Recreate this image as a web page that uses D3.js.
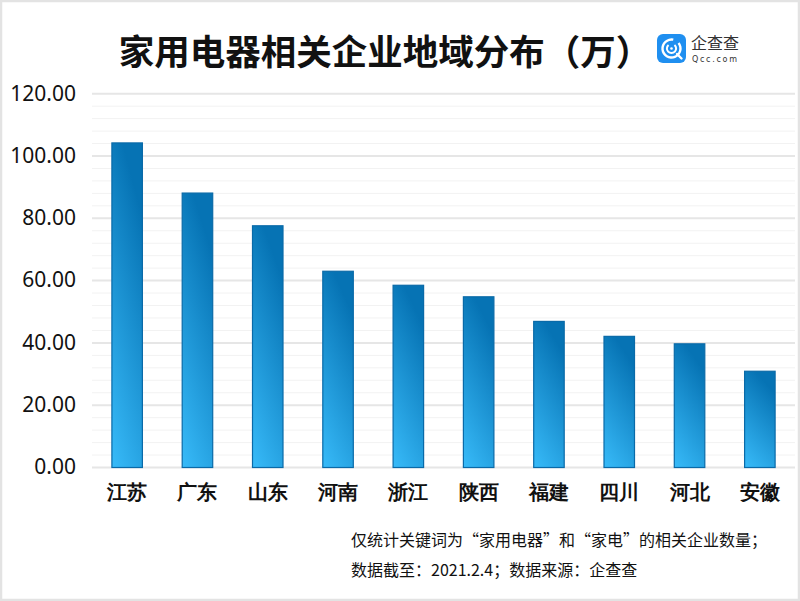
<!DOCTYPE html>
<html>
<meta charset="utf-8" />
<style>
  body { margin: 0; background: #fff; }
  svg { display: block; font-family: "Noto Sans CJK SC", "Noto Sans", sans-serif; }
  .grid-major { stroke: #e6e6e6; stroke-width: 2; }
  .grid-minor { stroke: #f2f2f2; stroke-width: 1; }
  .ylabel { font-family: "Noto Sans", sans-serif; font-size: 21px; fill: #111; }
  .xlabel { font-size: 20px; font-weight: bold; fill: #111; }
  .note { font-size: 16px; fill: #111; }
</style>
<body>
<script src="https://d3js.org/d3.v7.min.js"></script>
<script>
  // data
  let provinces = ["江苏", "广东", "山东", "河南", "浙江", "陕西", "福建", "四川", "河北", "安徽"];
  let counts = [104.2, 88.1, 77.6, 63.0, 58.5, 54.8, 46.9, 42.1, 39.7, 30.9];
  let majorTicks = [0, 20, 40, 60, 80, 100, 120];
  let minorTicks = d3.range(0, 121, 4);
  let title = "家用电器相关企业地域分布（万）";
  let notes = ["仅统计关键词为“家用电器”和“家电”的相关企业数量；", "数据截至：2021.2.4；数据来源：企查查"];

  let width = 800,
    height = 601;

  let svg = d3.select("body").append("svg")
    .attr("width", width)
    .attr("height", height);

  let defs = svg.append("defs");
  let grad = defs.append("linearGradient")
    .attr("id", "barGrad")
    .attr("x1", 0).attr("y1", 1)
    .attr("x2", 0.35).attr("y2", 0);
  grad.append("stop").attr("offset", "0%").attr("stop-color", "#38bbf9");
  grad.append("stop").attr("offset", "100%").attr("stop-color", "#0673b4");

  // frame
  svg.append("rect")
    .attr("x", 1).attr("y", 1)
    .attr("width", width - 2).attr("height", height - 2)
    .attr("fill", "none")
    .attr("stroke", "#e3e3e3")
    .attr("stroke-width", 2.5);

  let x = d3.scaleBand()
    .domain(provinces)
    .range([92, 795])
    .paddingInner(0.566)
    .paddingOuter(0.283);

  let y = d3.scaleLinear()
    .domain([0, 120])
    .range([467.5, 93.7]);

  // gridlines
  svg.append("g").selectAll("line")
    .data(minorTicks.filter((d) => d % 20 !== 0))
    .join("line")
    .attr("class", "grid-minor")
    .attr("x1", 92).attr("x2", 795)
    .attr("y1", (d) => y(d)).attr("y2", (d) => y(d));

  svg.append("g").selectAll("line")
    .data(majorTicks)
    .join("line")
    .attr("class", "grid-major")
    .attr("x1", 92).attr("x2", 795)
    .attr("y1", (d) => y(d)).attr("y2", (d) => y(d));

  // y axis labels
  let yAxis = svg.append("g")
    .attr("transform", "translate(76,0)")
    .call(d3.axisLeft(y).tickValues(majorTicks).tickSize(0).tickPadding(0).tickFormat(d3.format(".2f")));
  yAxis.select(".domain").remove();
  yAxis.selectAll("text")
    .attr("class", "ylabel")
    .attr("font-family", null)
    .attr("font-size", null)
    .attr("fill", null)
    .attr("dy", "0.3em");

  // bars
  svg.append("g").selectAll("rect")
    .data(counts)
    .join("rect")
    .attr("x", (d, i) => x(provinces[i]))
    .attr("y", (d) => y(d))
    .attr("width", x.bandwidth())
    .attr("height", (d) => y(0) - y(d))
    .attr("fill", "url(#barGrad)")
    .attr("stroke", "#0a6aa8")
    .attr("stroke-width", 1.2);

  // x axis labels
  let xAxis = svg.append("g")
    .attr("transform", "translate(0,492)")
    .call(d3.axisBottom(x).tickSize(0).tickPadding(0));
  xAxis.select(".domain").remove();
  xAxis.selectAll("text")
    .attr("class", "xlabel")
    .attr("font-family", null)
    .attr("font-size", null)
    .attr("fill", null)
    .attr("dy", "0.35em");

  // title
  svg.append("text")
    .attr("x", 385)
    .attr("y", 49)
    .attr("text-anchor", "middle")
    .attr("dominant-baseline", "central")
    .style("font-size", "35.5px")
    .style("font-weight", "bold")
    .attr("fill", "#111")
    .text(title);

  // logo
  let logo = svg.append("g").attr("transform", "translate(657,34)");
  logo.append("rect")
    .attr("width", 29).attr("height", 29).attr("rx", 6)
    .attr("fill", "#1f8ff0");
  logo.append("path")
    .attr("d", d3.arc()({ innerRadius: 7.8, outerRadius: 10.2, startAngle: 0.9, endAngle: 2 * Math.PI + 0.2 }))
    .attr("transform", "translate(14.5,14.5)")
    .attr("fill", "#fff");
  logo.append("line")
    .attr("x1", 20).attr("y1", 20).attr("x2", 24.5).attr("y2", 24.5)
    .attr("stroke", "#fff").attr("stroke-width", 2.4).attr("stroke-linecap", "round");
  logo.append("path")
    .attr("d", d3.arc()({ innerRadius: 3.6, outerRadius: 5.6, startAngle: 0.7, endAngle: 2 * Math.PI - 0.7 }))
    .attr("transform", "translate(14.5,14.5)")
    .attr("fill", "#fff");
  logo.append("circle")
    .attr("cx", 14.5).attr("cy", 14.5).attr("r", 1.3)
    .attr("fill", "#fff");
  svg.append("text")
    .attr("x", 691).attr("y", 42)
    .attr("dominant-baseline", "central")
    .style("font-size", "16px")
    .attr("fill", "#333")
    .text("企查查");
  svg.append("text")
    .attr("x", 692).attr("y", 59.5)
    .attr("dominant-baseline", "central")
    .style("font-family", "'DejaVu Sans', sans-serif")
    .style("font-size", "8px")
    .style("letter-spacing", "1.7px")
    .attr("fill", "#333")
    .text("Qcc.com");

  // footnotes
  svg.append("g").selectAll("text")
    .data(notes)
    .join("text")
    .attr("class", "note")
    .attr("x", 351)
    .attr("y", (d, i) => 539 + i * 30)
    .attr("dominant-baseline", "central")
    .text((d) => d);
</script>
</body>
</html>
